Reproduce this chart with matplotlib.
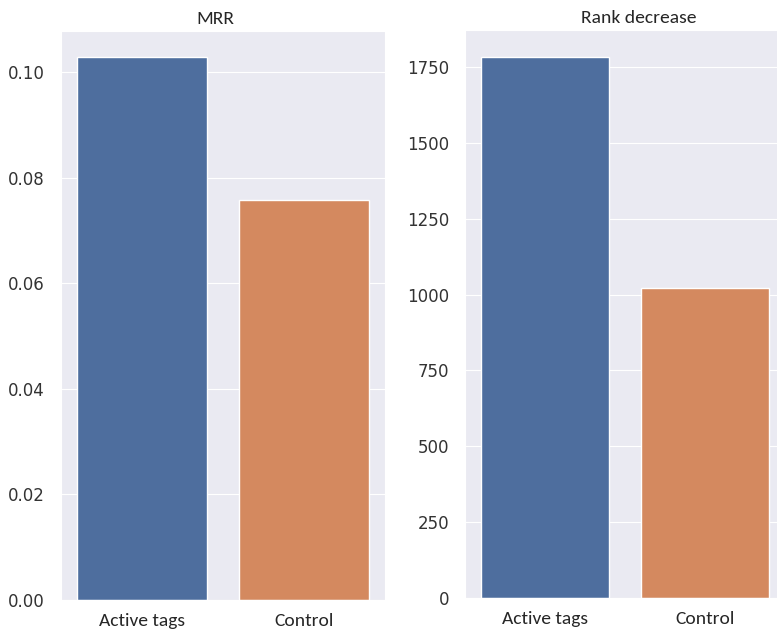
import matplotlib
matplotlib.use('Agg')
import matplotlib.pyplot as plt
import seaborn as sns
from matplotlib import font_manager

sns.set_style('darkgrid')

categories = ['Active tags', 'Control']
mrr = [0.1028, 0.0758]
rank_decrease = [1783, 1022]
colors = ['#4E6E9E', '#D4895F']

names = {f.name for f in font_manager.fontManager.ttflist}
label_font = 'Carlito' if 'Carlito' in names else 'DejaVu Sans'
stretch = 'normal' if label_font == 'Carlito' else 'condensed'

fig = plt.figure(figsize=(7.77, 6.33), dpi=100)
W, H = 777, 633

def box(l, r, t, b):
    return [l / W, 1 - b / H, (r - l) / W, (b - t) / H]

ax1 = fig.add_axes(box(61, 385, 31, 600))
ax2 = fig.add_axes(box(465, 785, 30, 598))

panels = [(ax1, mrr, 'MRR', 0.1078, 0.477),
          (ax2, rank_decrease, 'Rank decrease', 1872, 0.542)]
for ax, vals, title, ylim, tx in panels:
    ax.bar(categories, vals, width=0.8, color=colors, edgecolor='white', linewidth=1)
    ax.set_xlim(-0.5, 1.5)
    ax.set_ylim(0, ylim)
    ax.set_title(title, fontsize=14, family=label_font, fontstretch=stretch, pad=5, x=tx)
    ax.tick_params(axis='y', labelsize=12, colors='#333333', pad=8)
    ax.tick_params(axis='x', labelsize=14, pad=6)
    for lab in ax.get_xticklabels():
        lab.set_family(label_font)
        lab.set_fontstretch(stretch)
    ax.grid(axis='x', visible=False)

ax1.set_yticks([0, 0.02, 0.04, 0.06, 0.08, 0.10])
ax1.set_yticklabels(['0.00', '0.02', '0.04', '0.06', '0.08', '0.10'])
ax2.set_yticks([0, 250, 500, 750, 1000, 1250, 1500, 1750])

fig.savefig('out.png', dpi=100)
